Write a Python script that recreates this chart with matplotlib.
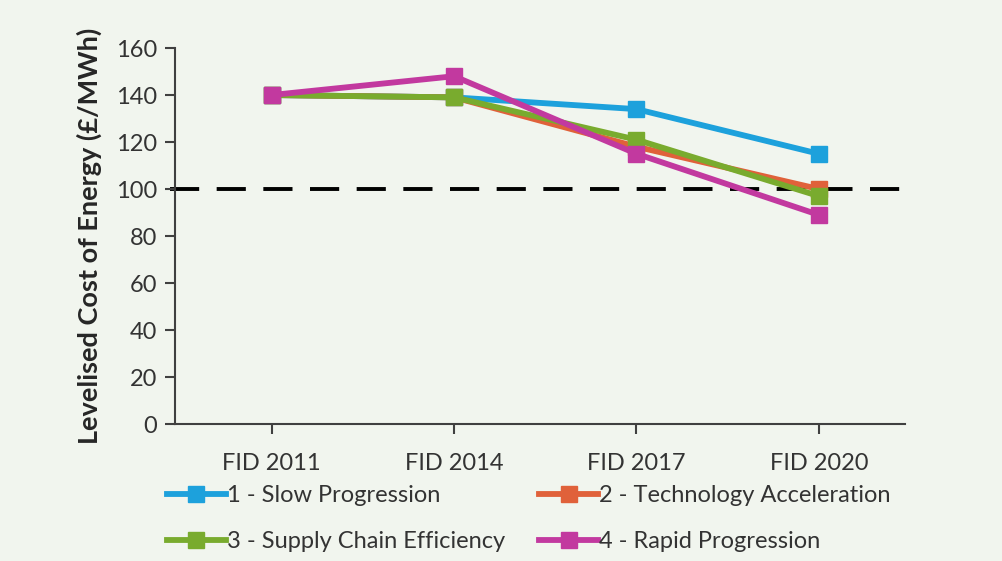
import matplotlib.pyplot as plt
import numpy as np

plt.rcParams['font.family'] = ['Lato', 'DejaVu Sans']

categories = ["FID 2011", "FID 2014", "FID 2017", "FID 2020"]
slow = [140, 139, 134, 115]
tech = [140, 139, 118, 100]
supply = [140, 139, 121, 97]
rapid = [140, 148, 115, 89]
threshold = 100

labels = ["1 - Slow Progression", "2 - Technology Acceleration",
          "3 - Supply Chain Efficiency", "4 - Rapid Progression"]
colors = ["#1DA1DC", "#E0613A", "#79AB2E", "#C2399F"]
bg = "#F1F5EE"
txt = "#333333"

fig = plt.figure(figsize=(10.02, 5.61), dpi=100, facecolor=bg)
ax = fig.add_axes([0.1747, 0.2442, 0.728, 0.6702], facecolor=bg)

x = np.arange(len(categories))
ax.axhline(threshold, xmin=-0.007, color="black", lw=2.8, dashes=(7.5, 4.5), zorder=1, clip_on=False)
lines = []
for series, label, color in zip([slow, tech, supply, rapid], labels, colors):
    ln, = ax.plot(x, series, color=color, lw=4.2, marker="s", markersize=11, label=label, zorder=3)
    lines.append(ln)

ax.set_xlim(-0.53, 3.47)
ax.set_ylim(0, 160)
ax.set_yticks(np.arange(0, 161, 20))
ax.set_xticks(x)
ax.set_xticklabels(categories)
for s in ["top", "right"]:
    ax.spines[s].set_visible(False)
for s in ["left", "bottom"]:
    ax.spines[s].set_color("#404040")
    ax.spines[s].set_linewidth(1.5)
ax.tick_params(axis="both", direction="out", length=7, width=1.5, color="#404040",
               labelsize=17, labelcolor=txt)
ax.tick_params(axis="x", pad=14)
ax.tick_params(axis="y", pad=6)
ax.set_ylabel("Levelised Cost of Energy (£/MWh)", fontsize=19.5, fontweight="bold",
              color="#262626", labelpad=10)

# legend row-major: column-major order for ncol=2
order = [0, 2, 1, 3]
fig.legend([lines[i] for i in order], [labels[i] for i in order],
           loc="upper left", bbox_to_anchor=(0.145, 0.173), ncol=2, frameon=False,
           fontsize=17, handlelength=2.5, handletextpad=0.05, columnspacing=1.45,
           labelspacing=1.05, labelcolor=txt)

plt.savefig("out.png", facecolor=bg)
